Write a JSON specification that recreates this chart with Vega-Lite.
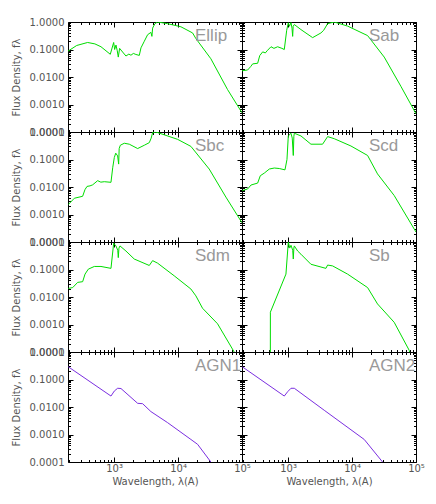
{
  "$schema": "https://vega.github.io/schema/vega-lite/v6.json",
  "padding": {"left": 10, "top": 16, "right": 5, "bottom": 5},
  "background": "white",
  "datasets": {
    "Ellip": [
      {"wavelength": 190, "flux": 0.087}, {"wavelength": 260, "flux": 0.14}, {"wavelength": 385, "flux": 0.18}, {"wavelength": 500, "flux": 0.16},
      {"wavelength": 623, "flux": 0.126}, {"wavelength": 871, "flux": 0.067}, {"wavelength": 984, "flux": 0.18}, {"wavelength": 1020, "flux": 0.1},
      {"wavelength": 1069, "flux": 0.145}, {"wavelength": 1120, "flux": 0.09}, {"wavelength": 1162, "flux": 0.053}, {"wavelength": 1219, "flux": 0.11},
      {"wavelength": 1358, "flux": 0.081}, {"wavelength": 1531, "flux": 0.058}, {"wavelength": 1700, "flux": 0.068}, {"wavelength": 1833, "flux": 0.062},
      {"wavelength": 2000, "flux": 0.072}, {"wavelength": 2190, "flux": 0.066}, {"wavelength": 2475, "flux": 0.061}, {"wavelength": 2630, "flux": 0.115},
      {"wavelength": 2967, "flux": 0.2}, {"wavelength": 3342, "flux": 0.345}, {"wavelength": 3765, "flux": 0.42}, {"wavelength": 3900, "flux": 0.3},
      {"wavelength": 4000, "flux": 0.6}, {"wavelength": 4345, "flux": 0.87}, {"wavelength": 4786, "flux": 1.0}, {"wavelength": 6855, "flux": 0.87},
      {"wavelength": 11090, "flux": 0.67}, {"wavelength": 16870, "flux": 0.4}, {"wavelength": 19000, "flux": 0.25}, {"wavelength": 32600, "flux": 0.046},
      {"wavelength": 59400, "flux": 0.0035}, {"wavelength": 100000, "flux": 0.0005}
    ],
    "Sab": [
      {"wavelength": 190, "flux": 0.0168}, {"wavelength": 233, "flux": 0.018}, {"wavelength": 260, "flux": 0.024}, {"wavelength": 279, "flux": 0.03},
      {"wavelength": 334, "flux": 0.0316}, {"wavelength": 360, "flux": 0.06}, {"wavelength": 400, "flux": 0.082}, {"wavelength": 440, "flux": 0.075},
      {"wavelength": 478, "flux": 0.094}, {"wavelength": 540, "flux": 0.126}, {"wavelength": 600, "flux": 0.11}, {"wavelength": 686, "flux": 0.126},
      {"wavelength": 800, "flux": 0.11}, {"wavelength": 871, "flux": 0.1}, {"wavelength": 950, "flux": 0.5}, {"wavelength": 1006, "flux": 0.94},
      {"wavelength": 1050, "flux": 0.7}, {"wavelength": 1109, "flux": 0.95}, {"wavelength": 1150, "flux": 0.6}, {"wavelength": 1178, "flux": 0.3},
      {"wavelength": 1200, "flux": 0.7}, {"wavelength": 1250, "flux": 0.81}, {"wavelength": 1587, "flux": 0.53}, {"wavelength": 2417, "flux": 0.27},
      {"wavelength": 3260, "flux": 0.4}, {"wavelength": 3600, "flux": 0.5}, {"wavelength": 4147, "flux": 0.87}, {"wavelength": 5270, "flux": 1.0},
      {"wavelength": 8510, "flux": 0.71}, {"wavelength": 17500, "flux": 0.32}, {"wavelength": 31850, "flux": 0.053}, {"wavelength": 58000, "flux": 0.0046},
      {"wavelength": 100000, "flux": 0.00046}
    ],
    "Sbc": [
      {"wavelength": 192, "flux": 0.0023}, {"wavelength": 239, "flux": 0.0039}, {"wavelength": 322, "flux": 0.0046}, {"wavelength": 350, "flux": 0.008},
      {"wavelength": 377, "flux": 0.0105}, {"wavelength": 420, "flux": 0.011}, {"wavelength": 462, "flux": 0.012}, {"wavelength": 553, "flux": 0.017},
      {"wavelength": 620, "flux": 0.015}, {"wavelength": 703, "flux": 0.0156}, {"wavelength": 893, "flux": 0.0148}, {"wavelength": 950, "flux": 0.05},
      {"wavelength": 1007, "flux": 0.118}, {"wavelength": 1060, "flux": 0.17}, {"wavelength": 1135, "flux": 0.135}, {"wavelength": 1178, "flux": 0.068},
      {"wavelength": 1200, "flux": 0.25}, {"wavelength": 1250, "flux": 0.33}, {"wavelength": 1443, "flux": 0.39}, {"wavelength": 1727, "flux": 0.36},
      {"wavelength": 2333, "flux": 0.25}, {"wavelength": 2965, "flux": 0.33}, {"wavelength": 3548, "flux": 0.41}, {"wavelength": 3800, "flux": 0.6},
      {"wavelength": 4000, "flux": 0.95}, {"wavelength": 4508, "flux": 1.0}, {"wavelength": 9840, "flux": 0.54}, {"wavelength": 15880, "flux": 0.3},
      {"wavelength": 30700, "flux": 0.045}, {"wavelength": 56000, "flux": 0.0043}, {"wavelength": 100000, "flux": 0.0005}
    ],
    "Scd": [
      {"wavelength": 192, "flux": 0.0074}, {"wavelength": 233, "flux": 0.0085}, {"wavelength": 263, "flux": 0.0118}, {"wavelength": 334, "flux": 0.0139},
      {"wavelength": 367, "flux": 0.0257}, {"wavelength": 424, "flux": 0.032}, {"wavelength": 508, "flux": 0.045}, {"wavelength": 608, "flux": 0.049},
      {"wavelength": 728, "flux": 0.047}, {"wavelength": 893, "flux": 0.042}, {"wavelength": 960, "flux": 0.1}, {"wavelength": 1007, "flux": 0.72},
      {"wavelength": 1109, "flux": 0.9}, {"wavelength": 1160, "flux": 0.6}, {"wavelength": 1205, "flux": 0.14}, {"wavelength": 1230, "flux": 0.7},
      {"wavelength": 1250, "flux": 0.9}, {"wavelength": 1587, "flux": 0.72}, {"wavelength": 2275, "flux": 0.36}, {"wavelength": 3460, "flux": 0.36},
      {"wavelength": 4147, "flux": 0.68}, {"wavelength": 5270, "flux": 0.57}, {"wavelength": 9600, "flux": 0.31}, {"wavelength": 17500, "flux": 0.14},
      {"wavelength": 25000, "flux": 0.03}, {"wavelength": 45600, "flux": 0.0049}, {"wavelength": 100000, "flux": 0.00023}
    ],
    "Sdm": [
      {"wavelength": 192, "flux": 0.0205}, {"wavelength": 225, "flux": 0.022}, {"wavelength": 269, "flux": 0.034}, {"wavelength": 322, "flux": 0.036},
      {"wavelength": 351, "flux": 0.068}, {"wavelength": 395, "flux": 0.103}, {"wavelength": 490, "flux": 0.129}, {"wavelength": 623, "flux": 0.129},
      {"wavelength": 893, "flux": 0.11}, {"wavelength": 984, "flux": 0.9}, {"wavelength": 1069, "flux": 0.72}, {"wavelength": 1140, "flux": 0.5},
      {"wavelength": 1162, "flux": 0.27}, {"wavelength": 1190, "flux": 0.6}, {"wavelength": 1235, "flux": 0.72}, {"wavelength": 1531, "flux": 0.47},
      {"wavelength": 2065, "flux": 0.24}, {"wavelength": 3548, "flux": 0.14}, {"wavelength": 4000, "flux": 0.21}, {"wavelength": 4786, "flux": 0.17},
      {"wavelength": 8700, "flux": 0.059}, {"wavelength": 15880, "flux": 0.0195}, {"wavelength": 19000, "flux": 0.011}, {"wavelength": 24150, "flux": 0.0039},
      {"wavelength": 41500, "flux": 0.00106}, {"wavelength": 75500, "flux": 0.0001}, {"wavelength": 96000, "flux": 0.00005}
    ],
    "Sb": [
      {"wavelength": 527, "flux": 0.00001}, {"wavelength": 528, "flux": 0.0028}, {"wavelength": 925, "flux": 0.068}, {"wavelength": 1007, "flux": 1.0},
      {"wavelength": 1060, "flux": 0.6}, {"wavelength": 1109, "flux": 0.76}, {"wavelength": 1180, "flux": 0.5}, {"wavelength": 1205, "flux": 0.24},
      {"wavelength": 1230, "flux": 0.6}, {"wavelength": 1250, "flux": 0.72}, {"wavelength": 1410, "flux": 0.47}, {"wavelength": 1587, "flux": 0.36},
      {"wavelength": 2275, "flux": 0.155}, {"wavelength": 3900, "flux": 0.11}, {"wavelength": 4147, "flux": 0.145}, {"wavelength": 4965, "flux": 0.135},
      {"wavelength": 8510, "flux": 0.068}, {"wavelength": 17500, "flux": 0.022}, {"wavelength": 25000, "flux": 0.0056}, {"wavelength": 45600, "flux": 0.0012},
      {"wavelength": 78300, "flux": 0.000115}, {"wavelength": 82000, "flux": 0.00007}
    ],
    "AGN1": [
      {"wavelength": 192, "flux": 0.29}, {"wavelength": 893, "flux": 0.025}, {"wavelength": 1007, "flux": 0.038}, {"wavelength": 1135, "flux": 0.048},
      {"wavelength": 1280, "flux": 0.047}, {"wavelength": 2333, "flux": 0.0136}, {"wavelength": 2790, "flux": 0.0132}, {"wavelength": 3765, "flux": 0.0068},
      {"wavelength": 6855, "flux": 0.0027}, {"wavelength": 15880, "flux": 0.00066}, {"wavelength": 20200, "flux": 0.00044}, {"wavelength": 32600, "flux": 0.0001},
      {"wavelength": 36000, "flux": 0.00006}
    ],
    "AGN2": [
      {"wavelength": 192, "flux": 0.29}, {"wavelength": 871, "flux": 0.025}, {"wavelength": 984, "flux": 0.036}, {"wavelength": 1109, "flux": 0.048},
      {"wavelength": 1250, "flux": 0.048}, {"wavelength": 3672, "flux": 0.0076}, {"wavelength": 15500, "flux": 0.00066}, {"wavelength": 30000, "flux": 0.0001},
      {"wavelength": 32500, "flux": 0.00007}
    ]
  },
  "columns": 2,
  "spacing": 0,
  "bounds": "flush",
  "concat": [
    {
      "width": 174, "height": 110,
      "layer": [
        {"data": {"name": "Ellip"}, "mark": {"type": "line", "clip": true, "color": "#00dd00", "strokeWidth": 1},
         "encoding": {
           "x": {"field": "wavelength", "type": "quantitative", "scale": {"type": "log", "domain": [190, 100000], "nice": false},
                 "axis": {"orient": "bottom", "values": [200,300,400,500,600,700,800,900,1000,2000,3000,4000,5000,6000,7000,8000,9000,10000,20000,30000,40000,50000,60000,70000,80000,90000,100000], "labels": false, "title": null, "tickSize": {"condition": {"test": "indexof([1000,10000,100000], datum.value) >= 0", "value": -5}, "value": -2.5}}},
           "y": {"field": "flux", "type": "quantitative", "scale": {"type": "log", "domain": [0.0001, 1], "nice": false},
                 "axis": {"orient": "left", "values": [0.0001,0.0002,0.0003,0.0004,0.0005,0.0006,0.0007,0.0008,0.0009,0.001,0.002,0.003,0.004,0.005,0.006,0.007,0.008,0.009,0.01,0.02,0.03,0.04,0.05,0.06,0.07,0.08,0.09,0.1,0.2,0.3,0.4,0.5,0.6,0.7,0.8,0.9,1], "labelExpr": "indexof([0.0001,0.001,0.01,0.1,1], datum.value) >= 0 ? format(datum.value, '.4f') : ''", "title": "Flux Density, fλ", "tickSize": {"condition": {"test": "indexof([0.0001,0.001,0.01,0.1,1], datum.value) >= 0", "value": -5}, "value": -2.5}}}
         }},
        {"data": {"values": [{"label": "Ellip"}]}, "mark": {"type": "text", "align": "left", "baseline": "alphabetic", "fontSize": 17, "font": "Liberation Sans", "color": "#999999"},
         "encoding": {
           "text": {"field": "label"},
           "x": {"datum": 18400, "type": "quantitative", "axis": {"orient": "top", "values": [200,300,400,500,600,700,800,900,1000,2000,3000,4000,5000,6000,7000,8000,9000,10000,20000,30000,40000,50000,60000,70000,80000,90000,100000], "labels": false, "title": null, "tickSize": {"condition": {"test": "indexof([1000,10000,100000], datum.value) >= 0", "value": -5}, "value": -2.5}}},
           "y": {"datum": 0.204, "type": "quantitative", "axis": {"orient": "right", "values": [0.0001,0.0002,0.0003,0.0004,0.0005,0.0006,0.0007,0.0008,0.0009,0.001,0.002,0.003,0.004,0.005,0.006,0.007,0.008,0.009,0.01,0.02,0.03,0.04,0.05,0.06,0.07,0.08,0.09,0.1,0.2,0.3,0.4,0.5,0.6,0.7,0.8,0.9,1], "labels": false, "title": null, "tickSize": {"condition": {"test": "indexof([0.0001,0.001,0.01,0.1,1], datum.value) >= 0", "value": -5}, "value": -2.5}}}
         }}
      ],
      "resolve": {"axis": {"x": "independent", "y": "independent"}}
    },
    {
      "width": 174, "height": 110,
      "layer": [
        {"data": {"name": "Sab"}, "mark": {"type": "line", "clip": true, "color": "#00dd00", "strokeWidth": 1},
         "encoding": {
           "x": {"field": "wavelength", "type": "quantitative", "scale": {"type": "log", "domain": [190, 100000], "nice": false},
                 "axis": {"orient": "bottom", "values": [200,300,400,500,600,700,800,900,1000,2000,3000,4000,5000,6000,7000,8000,9000,10000,20000,30000,40000,50000,60000,70000,80000,90000,100000], "labels": false, "title": null, "tickSize": {"condition": {"test": "indexof([1000,10000,100000], datum.value) >= 0", "value": -5}, "value": -2.5}}},
           "y": {"field": "flux", "type": "quantitative", "scale": {"type": "log", "domain": [0.0001, 1], "nice": false},
                 "axis": {"orient": "left", "values": [0.0001,0.0002,0.0003,0.0004,0.0005,0.0006,0.0007,0.0008,0.0009,0.001,0.002,0.003,0.004,0.005,0.006,0.007,0.008,0.009,0.01,0.02,0.03,0.04,0.05,0.06,0.07,0.08,0.09,0.1,0.2,0.3,0.4,0.5,0.6,0.7,0.8,0.9,1], "labels": false, "title": null, "tickSize": {"condition": {"test": "indexof([0.0001,0.001,0.01,0.1,1], datum.value) >= 0", "value": -5}, "value": -2.5}}}
         }},
        {"data": {"values": [{"label": "Sab"}]}, "mark": {"type": "text", "align": "left", "baseline": "alphabetic", "fontSize": 17, "font": "Liberation Sans", "color": "#999999"},
         "encoding": {
           "text": {"field": "label"},
           "x": {"datum": 18400, "type": "quantitative", "axis": {"orient": "top", "values": [200,300,400,500,600,700,800,900,1000,2000,3000,4000,5000,6000,7000,8000,9000,10000,20000,30000,40000,50000,60000,70000,80000,90000,100000], "labels": false, "title": null, "tickSize": {"condition": {"test": "indexof([1000,10000,100000], datum.value) >= 0", "value": -5}, "value": -2.5}}},
           "y": {"datum": 0.204, "type": "quantitative", "axis": {"orient": "right", "values": [0.0001,0.0002,0.0003,0.0004,0.0005,0.0006,0.0007,0.0008,0.0009,0.001,0.002,0.003,0.004,0.005,0.006,0.007,0.008,0.009,0.01,0.02,0.03,0.04,0.05,0.06,0.07,0.08,0.09,0.1,0.2,0.3,0.4,0.5,0.6,0.7,0.8,0.9,1], "labels": false, "title": null, "tickSize": {"condition": {"test": "indexof([0.0001,0.001,0.01,0.1,1], datum.value) >= 0", "value": -5}, "value": -2.5}}}
         }}
      ],
      "resolve": {"axis": {"x": "independent", "y": "independent"}}
    },
    {
      "width": 174, "height": 110,
      "layer": [
        {"data": {"name": "Sbc"}, "mark": {"type": "line", "clip": true, "color": "#00dd00", "strokeWidth": 1},
         "encoding": {
           "x": {"field": "wavelength", "type": "quantitative", "scale": {"type": "log", "domain": [190, 100000], "nice": false},
                 "axis": {"orient": "bottom", "values": [200,300,400,500,600,700,800,900,1000,2000,3000,4000,5000,6000,7000,8000,9000,10000,20000,30000,40000,50000,60000,70000,80000,90000,100000], "labels": false, "title": null, "tickSize": {"condition": {"test": "indexof([1000,10000,100000], datum.value) >= 0", "value": -5}, "value": -2.5}}},
           "y": {"field": "flux", "type": "quantitative", "scale": {"type": "log", "domain": [0.0001, 1], "nice": false},
                 "axis": {"orient": "left", "values": [0.0001,0.0002,0.0003,0.0004,0.0005,0.0006,0.0007,0.0008,0.0009,0.001,0.002,0.003,0.004,0.005,0.006,0.007,0.008,0.009,0.01,0.02,0.03,0.04,0.05,0.06,0.07,0.08,0.09,0.1,0.2,0.3,0.4,0.5,0.6,0.7,0.8,0.9,1], "labelExpr": "indexof([0.0001,0.001,0.01,0.1,1], datum.value) >= 0 ? format(datum.value, '.4f') : ''", "title": "Flux Density, fλ", "tickSize": {"condition": {"test": "indexof([0.0001,0.001,0.01,0.1,1], datum.value) >= 0", "value": -5}, "value": -2.5}}}
         }},
        {"data": {"values": [{"label": "Sbc"}]}, "mark": {"type": "text", "align": "left", "baseline": "alphabetic", "fontSize": 17, "font": "Liberation Sans", "color": "#999999"},
         "encoding": {
           "text": {"field": "label"},
           "x": {"datum": 18400, "type": "quantitative", "axis": {"orient": "top", "values": [200,300,400,500,600,700,800,900,1000,2000,3000,4000,5000,6000,7000,8000,9000,10000,20000,30000,40000,50000,60000,70000,80000,90000,100000], "labels": false, "title": null, "tickSize": {"condition": {"test": "indexof([1000,10000,100000], datum.value) >= 0", "value": -5}, "value": -2.5}}},
           "y": {"datum": 0.204, "type": "quantitative", "axis": {"orient": "right", "values": [0.0001,0.0002,0.0003,0.0004,0.0005,0.0006,0.0007,0.0008,0.0009,0.001,0.002,0.003,0.004,0.005,0.006,0.007,0.008,0.009,0.01,0.02,0.03,0.04,0.05,0.06,0.07,0.08,0.09,0.1,0.2,0.3,0.4,0.5,0.6,0.7,0.8,0.9,1], "labels": false, "title": null, "tickSize": {"condition": {"test": "indexof([0.0001,0.001,0.01,0.1,1], datum.value) >= 0", "value": -5}, "value": -2.5}}}
         }}
      ],
      "resolve": {"axis": {"x": "independent", "y": "independent"}}
    },
    {
      "width": 174, "height": 110,
      "layer": [
        {"data": {"name": "Scd"}, "mark": {"type": "line", "clip": true, "color": "#00dd00", "strokeWidth": 1},
         "encoding": {
           "x": {"field": "wavelength", "type": "quantitative", "scale": {"type": "log", "domain": [190, 100000], "nice": false},
                 "axis": {"orient": "bottom", "values": [200,300,400,500,600,700,800,900,1000,2000,3000,4000,5000,6000,7000,8000,9000,10000,20000,30000,40000,50000,60000,70000,80000,90000,100000], "labels": false, "title": null, "tickSize": {"condition": {"test": "indexof([1000,10000,100000], datum.value) >= 0", "value": -5}, "value": -2.5}}},
           "y": {"field": "flux", "type": "quantitative", "scale": {"type": "log", "domain": [0.0001, 1], "nice": false},
                 "axis": {"orient": "left", "values": [0.0001,0.0002,0.0003,0.0004,0.0005,0.0006,0.0007,0.0008,0.0009,0.001,0.002,0.003,0.004,0.005,0.006,0.007,0.008,0.009,0.01,0.02,0.03,0.04,0.05,0.06,0.07,0.08,0.09,0.1,0.2,0.3,0.4,0.5,0.6,0.7,0.8,0.9,1], "labels": false, "title": null, "tickSize": {"condition": {"test": "indexof([0.0001,0.001,0.01,0.1,1], datum.value) >= 0", "value": -5}, "value": -2.5}}}
         }},
        {"data": {"values": [{"label": "Scd"}]}, "mark": {"type": "text", "align": "left", "baseline": "alphabetic", "fontSize": 17, "font": "Liberation Sans", "color": "#999999"},
         "encoding": {
           "text": {"field": "label"},
           "x": {"datum": 18400, "type": "quantitative", "axis": {"orient": "top", "values": [200,300,400,500,600,700,800,900,1000,2000,3000,4000,5000,6000,7000,8000,9000,10000,20000,30000,40000,50000,60000,70000,80000,90000,100000], "labels": false, "title": null, "tickSize": {"condition": {"test": "indexof([1000,10000,100000], datum.value) >= 0", "value": -5}, "value": -2.5}}},
           "y": {"datum": 0.204, "type": "quantitative", "axis": {"orient": "right", "values": [0.0001,0.0002,0.0003,0.0004,0.0005,0.0006,0.0007,0.0008,0.0009,0.001,0.002,0.003,0.004,0.005,0.006,0.007,0.008,0.009,0.01,0.02,0.03,0.04,0.05,0.06,0.07,0.08,0.09,0.1,0.2,0.3,0.4,0.5,0.6,0.7,0.8,0.9,1], "labels": false, "title": null, "tickSize": {"condition": {"test": "indexof([0.0001,0.001,0.01,0.1,1], datum.value) >= 0", "value": -5}, "value": -2.5}}}
         }}
      ],
      "resolve": {"axis": {"x": "independent", "y": "independent"}}
    },
    {
      "width": 174, "height": 110,
      "layer": [
        {"data": {"name": "Sdm"}, "mark": {"type": "line", "clip": true, "color": "#00dd00", "strokeWidth": 1},
         "encoding": {
           "x": {"field": "wavelength", "type": "quantitative", "scale": {"type": "log", "domain": [190, 100000], "nice": false},
                 "axis": {"orient": "bottom", "values": [200,300,400,500,600,700,800,900,1000,2000,3000,4000,5000,6000,7000,8000,9000,10000,20000,30000,40000,50000,60000,70000,80000,90000,100000], "labels": false, "title": null, "tickSize": {"condition": {"test": "indexof([1000,10000,100000], datum.value) >= 0", "value": -5}, "value": -2.5}}},
           "y": {"field": "flux", "type": "quantitative", "scale": {"type": "log", "domain": [0.0001, 1], "nice": false},
                 "axis": {"orient": "left", "values": [0.0001,0.0002,0.0003,0.0004,0.0005,0.0006,0.0007,0.0008,0.0009,0.001,0.002,0.003,0.004,0.005,0.006,0.007,0.008,0.009,0.01,0.02,0.03,0.04,0.05,0.06,0.07,0.08,0.09,0.1,0.2,0.3,0.4,0.5,0.6,0.7,0.8,0.9,1], "labelExpr": "indexof([0.0001,0.001,0.01,0.1,1], datum.value) >= 0 ? format(datum.value, '.4f') : ''", "title": "Flux Density, fλ", "tickSize": {"condition": {"test": "indexof([0.0001,0.001,0.01,0.1,1], datum.value) >= 0", "value": -5}, "value": -2.5}}}
         }},
        {"data": {"values": [{"label": "Sdm"}]}, "mark": {"type": "text", "align": "left", "baseline": "alphabetic", "fontSize": 17, "font": "Liberation Sans", "color": "#999999"},
         "encoding": {
           "text": {"field": "label"},
           "x": {"datum": 18400, "type": "quantitative", "axis": {"orient": "top", "values": [200,300,400,500,600,700,800,900,1000,2000,3000,4000,5000,6000,7000,8000,9000,10000,20000,30000,40000,50000,60000,70000,80000,90000,100000], "labels": false, "title": null, "tickSize": {"condition": {"test": "indexof([1000,10000,100000], datum.value) >= 0", "value": -5}, "value": -2.5}}},
           "y": {"datum": 0.204, "type": "quantitative", "axis": {"orient": "right", "values": [0.0001,0.0002,0.0003,0.0004,0.0005,0.0006,0.0007,0.0008,0.0009,0.001,0.002,0.003,0.004,0.005,0.006,0.007,0.008,0.009,0.01,0.02,0.03,0.04,0.05,0.06,0.07,0.08,0.09,0.1,0.2,0.3,0.4,0.5,0.6,0.7,0.8,0.9,1], "labels": false, "title": null, "tickSize": {"condition": {"test": "indexof([0.0001,0.001,0.01,0.1,1], datum.value) >= 0", "value": -5}, "value": -2.5}}}
         }}
      ],
      "resolve": {"axis": {"x": "independent", "y": "independent"}}
    },
    {
      "width": 174, "height": 110,
      "layer": [
        {"data": {"name": "Sb"}, "mark": {"type": "line", "clip": true, "color": "#00dd00", "strokeWidth": 1},
         "encoding": {
           "x": {"field": "wavelength", "type": "quantitative", "scale": {"type": "log", "domain": [190, 100000], "nice": false},
                 "axis": {"orient": "bottom", "values": [200,300,400,500,600,700,800,900,1000,2000,3000,4000,5000,6000,7000,8000,9000,10000,20000,30000,40000,50000,60000,70000,80000,90000,100000], "labels": false, "title": null, "tickSize": {"condition": {"test": "indexof([1000,10000,100000], datum.value) >= 0", "value": -5}, "value": -2.5}}},
           "y": {"field": "flux", "type": "quantitative", "scale": {"type": "log", "domain": [0.0001, 1], "nice": false},
                 "axis": {"orient": "left", "values": [0.0001,0.0002,0.0003,0.0004,0.0005,0.0006,0.0007,0.0008,0.0009,0.001,0.002,0.003,0.004,0.005,0.006,0.007,0.008,0.009,0.01,0.02,0.03,0.04,0.05,0.06,0.07,0.08,0.09,0.1,0.2,0.3,0.4,0.5,0.6,0.7,0.8,0.9,1], "labels": false, "title": null, "tickSize": {"condition": {"test": "indexof([0.0001,0.001,0.01,0.1,1], datum.value) >= 0", "value": -5}, "value": -2.5}}}
         }},
        {"data": {"values": [{"label": "Sb"}]}, "mark": {"type": "text", "align": "left", "baseline": "alphabetic", "fontSize": 17, "font": "Liberation Sans", "color": "#999999"},
         "encoding": {
           "text": {"field": "label"},
           "x": {"datum": 18400, "type": "quantitative", "axis": {"orient": "top", "values": [200,300,400,500,600,700,800,900,1000,2000,3000,4000,5000,6000,7000,8000,9000,10000,20000,30000,40000,50000,60000,70000,80000,90000,100000], "labels": false, "title": null, "tickSize": {"condition": {"test": "indexof([1000,10000,100000], datum.value) >= 0", "value": -5}, "value": -2.5}}},
           "y": {"datum": 0.204, "type": "quantitative", "axis": {"orient": "right", "values": [0.0001,0.0002,0.0003,0.0004,0.0005,0.0006,0.0007,0.0008,0.0009,0.001,0.002,0.003,0.004,0.005,0.006,0.007,0.008,0.009,0.01,0.02,0.03,0.04,0.05,0.06,0.07,0.08,0.09,0.1,0.2,0.3,0.4,0.5,0.6,0.7,0.8,0.9,1], "labels": false, "title": null, "tickSize": {"condition": {"test": "indexof([0.0001,0.001,0.01,0.1,1], datum.value) >= 0", "value": -5}, "value": -2.5}}}
         }}
      ],
      "resolve": {"axis": {"x": "independent", "y": "independent"}}
    },
    {
      "width": 174, "height": 110,
      "layer": [
        {"data": {"name": "AGN1"}, "mark": {"type": "line", "clip": true, "color": "#7b2fe0", "strokeWidth": 1},
         "encoding": {
           "x": {"field": "wavelength", "type": "quantitative", "scale": {"type": "log", "domain": [190, 100000], "nice": false},
                 "axis": {"orient": "bottom", "values": [200,300,400,500,600,700,800,900,1000,2000,3000,4000,5000,6000,7000,8000,9000,10000,20000,30000,40000,50000,60000,70000,80000,90000,100000], "labelExpr": "datum.value == 1000 ? '10³' : datum.value == 10000 ? '10⁴' : datum.value == 100000 ? '10⁵' : ''", "title": "Wavelength, λ(A)", "tickSize": {"condition": {"test": "indexof([1000,10000,100000], datum.value) >= 0", "value": -5}, "value": -2.5}}},
           "y": {"field": "flux", "type": "quantitative", "scale": {"type": "log", "domain": [0.0001, 1], "nice": false},
                 "axis": {"orient": "left", "values": [0.0001,0.0002,0.0003,0.0004,0.0005,0.0006,0.0007,0.0008,0.0009,0.001,0.002,0.003,0.004,0.005,0.006,0.007,0.008,0.009,0.01,0.02,0.03,0.04,0.05,0.06,0.07,0.08,0.09,0.1,0.2,0.3,0.4,0.5,0.6,0.7,0.8,0.9,1], "labelExpr": "indexof([0.0001,0.001,0.01,0.1,1], datum.value) >= 0 ? format(datum.value, '.4f') : ''", "title": "Flux Density, fλ", "tickSize": {"condition": {"test": "indexof([0.0001,0.001,0.01,0.1,1], datum.value) >= 0", "value": -5}, "value": -2.5}}}
         }},
        {"data": {"values": [{"label": "AGN1"}]}, "mark": {"type": "text", "align": "left", "baseline": "alphabetic", "fontSize": 17, "font": "Liberation Sans", "color": "#999999"},
         "encoding": {
           "text": {"field": "label"},
           "x": {"datum": 18400, "type": "quantitative", "axis": {"orient": "top", "values": [200,300,400,500,600,700,800,900,1000,2000,3000,4000,5000,6000,7000,8000,9000,10000,20000,30000,40000,50000,60000,70000,80000,90000,100000], "labels": false, "title": null, "tickSize": {"condition": {"test": "indexof([1000,10000,100000], datum.value) >= 0", "value": -5}, "value": -2.5}}},
           "y": {"datum": 0.204, "type": "quantitative", "axis": {"orient": "right", "values": [0.0001,0.0002,0.0003,0.0004,0.0005,0.0006,0.0007,0.0008,0.0009,0.001,0.002,0.003,0.004,0.005,0.006,0.007,0.008,0.009,0.01,0.02,0.03,0.04,0.05,0.06,0.07,0.08,0.09,0.1,0.2,0.3,0.4,0.5,0.6,0.7,0.8,0.9,1], "labels": false, "title": null, "tickSize": {"condition": {"test": "indexof([0.0001,0.001,0.01,0.1,1], datum.value) >= 0", "value": -5}, "value": -2.5}}}
         }}
      ],
      "resolve": {"axis": {"x": "independent", "y": "independent"}}
    },
    {
      "width": 174, "height": 110,
      "layer": [
        {"data": {"name": "AGN2"}, "mark": {"type": "line", "clip": true, "color": "#7b2fe0", "strokeWidth": 1},
         "encoding": {
           "x": {"field": "wavelength", "type": "quantitative", "scale": {"type": "log", "domain": [190, 100000], "nice": false},
                 "axis": {"orient": "bottom", "values": [200,300,400,500,600,700,800,900,1000,2000,3000,4000,5000,6000,7000,8000,9000,10000,20000,30000,40000,50000,60000,70000,80000,90000,100000], "labelExpr": "datum.value == 1000 ? '10³' : datum.value == 10000 ? '10⁴' : datum.value == 100000 ? '10⁵' : ''", "title": "Wavelength, λ(A)", "tickSize": {"condition": {"test": "indexof([1000,10000,100000], datum.value) >= 0", "value": -5}, "value": -2.5}}},
           "y": {"field": "flux", "type": "quantitative", "scale": {"type": "log", "domain": [0.0001, 1], "nice": false},
                 "axis": {"orient": "left", "values": [0.0001,0.0002,0.0003,0.0004,0.0005,0.0006,0.0007,0.0008,0.0009,0.001,0.002,0.003,0.004,0.005,0.006,0.007,0.008,0.009,0.01,0.02,0.03,0.04,0.05,0.06,0.07,0.08,0.09,0.1,0.2,0.3,0.4,0.5,0.6,0.7,0.8,0.9,1], "labels": false, "title": null, "tickSize": {"condition": {"test": "indexof([0.0001,0.001,0.01,0.1,1], datum.value) >= 0", "value": -5}, "value": -2.5}}}
         }},
        {"data": {"values": [{"label": "AGN2"}]}, "mark": {"type": "text", "align": "left", "baseline": "alphabetic", "fontSize": 17, "font": "Liberation Sans", "color": "#999999"},
         "encoding": {
           "text": {"field": "label"},
           "x": {"datum": 18400, "type": "quantitative", "axis": {"orient": "top", "values": [200,300,400,500,600,700,800,900,1000,2000,3000,4000,5000,6000,7000,8000,9000,10000,20000,30000,40000,50000,60000,70000,80000,90000,100000], "labels": false, "title": null, "tickSize": {"condition": {"test": "indexof([1000,10000,100000], datum.value) >= 0", "value": -5}, "value": -2.5}}},
           "y": {"datum": 0.204, "type": "quantitative", "axis": {"orient": "right", "values": [0.0001,0.0002,0.0003,0.0004,0.0005,0.0006,0.0007,0.0008,0.0009,0.001,0.002,0.003,0.004,0.005,0.006,0.007,0.008,0.009,0.01,0.02,0.03,0.04,0.05,0.06,0.07,0.08,0.09,0.1,0.2,0.3,0.4,0.5,0.6,0.7,0.8,0.9,1], "labels": false, "title": null, "tickSize": {"condition": {"test": "indexof([0.0001,0.001,0.01,0.1,1], datum.value) >= 0", "value": -5}, "value": -2.5}}}
         }}
      ],
      "resolve": {"axis": {"x": "independent", "y": "independent"}}
    }
  ],
  "config": {
    "view": {"stroke": "black", "strokeWidth": 1},
    "axis": {
      "domain": false, "grid": false, "tickColor": "black", "tickWidth": 1,
      "labelFont": "DejaVu Sans", "labelFontSize": 10, "labelColor": "#555555", "labelFlush": false, "labelOverlap": false,
      "titleFont": "DejaVu Sans", "titleFontSize": 10, "titleFontWeight": "normal", "titleColor": "#555555"
    },
    "axisX": {"labelPadding": 6, "titlePadding": 1},
    "axisY": {"labelPadding": 9, "titlePadding": 8}
  }
}
